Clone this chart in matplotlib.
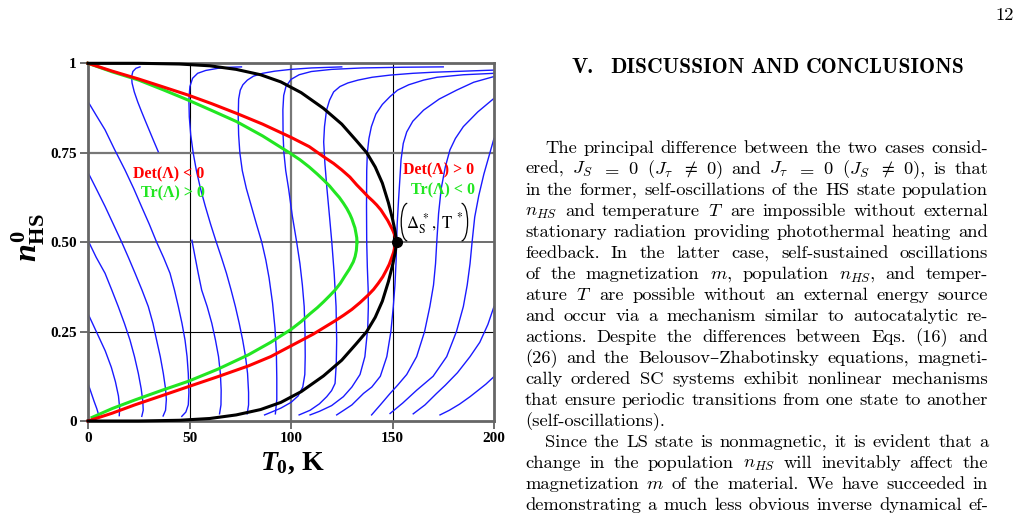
import matplotlib
matplotlib.use("Agg")
import matplotlib.pyplot as plt
from matplotlib.patches import Arc

plt.rcParams['mathtext.fontset'] = 'custom'
plt.rcParams['mathtext.rm'] = 'Liberation Serif:bold'
plt.rcParams['mathtext.it'] = 'Liberation Serif:italic:bold'
plt.rcParams['mathtext.bf'] = 'Liberation Serif:bold'

# ---------------- data (T0 in K, n_HS) ----------------
black_up_T = [0, 25, 45, 60, 73, 85, 95, 105, 116, 125, 132, 137.3, 141.5, 145, 148, 150, 151.3, 152]
black_up_n = [1.0, 1.0, 0.998, 0.993, 0.983, 0.968, 0.948, 0.918, 0.874, 0.83, 0.785, 0.75, 0.71, 0.665, 0.61, 0.565, 0.53, 0.5]
black_lo_T = [0, 25, 45, 60, 73, 85, 95, 105, 116, 125, 132, 137.3, 141.5, 145, 148, 150, 151.3, 152]
black_lo_n = [0.0, 0.0, 0.002, 0.007, 0.017, 0.032, 0.052, 0.082, 0.126, 0.17, 0.215, 0.25, 0.29, 0.335, 0.39, 0.435, 0.47, 0.5]

red_up_T = [0, 12, 25, 37, 49.4, 61, 73.2, 86, 100, 109, 116, 121, 125, 129, 132.4, 135.5, 138, 140.3, 142.2, 144.3, 146, 147.6, 148.8, 149.9, 150.6, 151.2, 151.6, 152]
red_up_n = [1.0, 0.978, 0.956, 0.934, 0.911, 0.887, 0.86, 0.83, 0.793, 0.767, 0.739, 0.72, 0.702, 0.682, 0.66, 0.642, 0.627, 0.615, 0.604, 0.59, 0.575, 0.561, 0.548, 0.536, 0.527, 0.518, 0.51, 0.5]
red_lo_T = [0, 12, 23, 36, 49.4, 64, 79, 90, 100, 111, 121.7, 126, 130, 134, 138, 140.7, 143, 145.2, 147, 148.4, 149.5, 150.5, 151.2, 151.7, 152]
red_lo_n = [0.0, 0.022, 0.045, 0.07, 0.096, 0.124, 0.154, 0.18, 0.21, 0.243, 0.28, 0.296, 0.312, 0.331, 0.352, 0.368, 0.385, 0.403, 0.422, 0.438, 0.455, 0.471, 0.487, 0.495, 0.5]

green_up_T = [0, 12, 25, 37, 49.4, 61, 73.2, 86, 99.5, 104.5, 109, 113, 116, 119, 121.5, 123.8, 125.8, 127.5, 129, 130, 130.7, 131.5, 132, 132.4, 132.5]
green_up_n = [1.0, 0.976, 0.953, 0.926, 0.897, 0.868, 0.837, 0.797, 0.749, 0.73, 0.71, 0.69, 0.674, 0.657, 0.64, 0.625, 0.609, 0.594, 0.578, 0.565, 0.553, 0.54, 0.525, 0.512, 0.5]
green_lo_T = [2, 12, 23.2, 36, 49.4, 64, 79, 90, 100, 105, 109.4, 113, 116, 119, 121.7, 124.3, 126.5, 128.8, 130.7, 131.6, 132.2, 132.5]
green_lo_n = [0.01, 0.035, 0.059, 0.085, 0.111, 0.145, 0.185, 0.22, 0.256, 0.278, 0.3, 0.317, 0.333, 0.35, 0.366, 0.385, 0.405, 0.425, 0.445, 0.46, 0.477, 0.5]

# blue trajectories: (T values, n values)
traj_T = [
    [0, 1.5, 3, 4.3, 5.1, 5.0],
    [0, 4.5, 8.5, 11.5, 13.5, 15, 15.6, 15.4],
    [0, 4, 8.4, 11.8, 14.9, 18, 20.7, 22.9, 24.8, 26.2, 27.0, 27.2, 26.5],
    [0, 4, 8.4, 12.5, 16.6, 20, 23.2, 26.6, 29.7, 32, 33.8, 35.6, 37.1, 38.2, 38.6, 38.2, 37.0],
    [0, 4, 8.4, 13, 18.2, 22.5, 26.4, 30.2, 33.8, 37.3, 40.4, 42.6, 44.5, 46.3, 47.8, 48.8, 49.4, 49.7, 49.4, 48.2, 46.2],
    [25.6, 23.6, 22.1, 21.5, 21.7, 22.8, 24.5, 26.3, 28.1, 30.3, 32.5, 34.6],
    [51.2, 52.7, 54.3, 56, 58.7, 61, 62.8, 64.3, 65.2, 65.6, 65.5, 64.8],
    [75.6, 70, 64, 58, 54, 51.5, 50.2, 49.7, 49.9, 50.6, 51.8, 53.4, 55.4, 57.8, 60.4, 63.2, 65.8, 68.2,
     70.5, 72.6, 74.5, 76.2, 77.6, 78.6, 79.1, 79.1, 78.4],
    [125, 110, 100, 92, 86, 81.5, 78.5, 76.3, 75, 74.2, 74, 74.2, 74.8, 76, 78, 80.5, 83, 85.6,
     87.6, 89.2, 90.9, 92.1, 92.8, 93, 93, 92.3],
    [175, 155, 135, 120, 110, 104, 100, 97.5, 96.4, 96, 96.1, 96.5, 97.4, 98.8, 100.6, 102.8, 104.4,
     105.6, 106.5, 106.9, 107, 106.8, 105.8, 103.5, 100, 95, 90, 87],
    [200, 185, 170, 160, 148.8, 140, 133, 128, 124.1, 121, 119, 117.5, 116.5, 116.1, 116.7, 117.7,
     119, 120.1, 121.3, 122.2, 122.5, 122.3, 121.7, 120, 117.6, 114, 109.4, 104],
    [200, 185, 172, 165.3, 158, 152.5, 148.8, 145, 141.8, 139.6, 138.4, 137.6, 137.3, 137.2, 137.3,
     137.6, 138, 138.1, 137.8, 136.4, 134, 130, 125.8, 120, 114, 109.4],
    [200, 190, 181.6, 173, 165.3, 160, 157, 155.3, 154.2, 153.7, 153, 152.3, 152, 151.8, 151.2, 150.4,
     149.2, 147.2, 144, 139.8, 135.7, 130, 126, 122.5],
    [200, 192, 184.9, 181, 178.3, 176, 174, 172.7, 171.8, 171.2, 170.2, 168.4, 165.8, 161.9, 157,
     152.5, 148.8, 144, 139.7],
    [200, 197.5, 195, 192.5, 190.5, 189.2, 188.2, 186.8, 184.9, 181.5, 176.7, 170, 161.9, 155, 148.8],
    [200, 197, 193, 188.2, 182, 176, 171.7, 166, 160.2],
    [200, 196, 192, 188.2, 183, 178, 173.4],
]
traj_n = [
    [0.105, 0.08, 0.055, 0.035, 0.02, 0.012],
    [0.30, 0.245, 0.196, 0.15, 0.11, 0.07, 0.037, 0.015],
    [0.505, 0.458, 0.413, 0.365, 0.32, 0.272, 0.226, 0.18, 0.133, 0.09, 0.055, 0.03, 0.013],
    [0.695, 0.65, 0.6, 0.55, 0.5, 0.456, 0.413, 0.366, 0.32, 0.273, 0.226, 0.18, 0.133, 0.09, 0.06, 0.03, 0.014],
    [0.893, 0.855, 0.814, 0.76, 0.702, 0.65, 0.599, 0.55, 0.5, 0.456, 0.413, 0.366, 0.32, 0.273, 0.226,
     0.18, 0.133, 0.08, 0.045, 0.025, 0.013],
    [0.99, 0.986, 0.977, 0.963, 0.945, 0.92, 0.892, 0.866, 0.841, 0.811, 0.781, 0.753],
    [0.505, 0.46, 0.413, 0.366, 0.32, 0.273, 0.226, 0.18, 0.133, 0.086, 0.045, 0.02],
    [0.99, 0.989, 0.986, 0.98, 0.972, 0.958, 0.935, 0.898, 0.85, 0.8, 0.75, 0.7, 0.65, 0.6, 0.55, 0.5,
     0.456, 0.413, 0.366, 0.32, 0.273, 0.226, 0.18, 0.133, 0.08, 0.045, 0.02],
    [0.99, 0.987, 0.983, 0.978, 0.972, 0.964, 0.953, 0.94, 0.925, 0.9, 0.85, 0.8, 0.75, 0.7, 0.65, 0.6,
     0.55, 0.5, 0.45, 0.4, 0.33, 0.26, 0.19, 0.12, 0.06, 0.02],
    [0.99, 0.989, 0.987, 0.983, 0.977, 0.968, 0.955, 0.935, 0.91, 0.87, 0.8, 0.75, 0.7, 0.65, 0.575,
     0.5, 0.44, 0.38, 0.32, 0.25, 0.18, 0.13, 0.095, 0.07, 0.052, 0.036, 0.024, 0.017],
    [0.981, 0.978, 0.975, 0.972, 0.967, 0.961, 0.953, 0.945, 0.935, 0.92, 0.897, 0.869, 0.823, 0.78,
     0.72, 0.65, 0.57, 0.5, 0.41, 0.32, 0.226, 0.16, 0.105, 0.085, 0.068, 0.048, 0.03, 0.017],
    [0.972, 0.968, 0.961, 0.953, 0.94, 0.925, 0.907, 0.885, 0.858, 0.823, 0.79, 0.75, 0.7, 0.6, 0.5,
     0.43, 0.37, 0.32, 0.26, 0.18, 0.13, 0.095, 0.068, 0.043, 0.027, 0.017],
    [0.963, 0.947, 0.925, 0.9, 0.869, 0.838, 0.808, 0.776, 0.73, 0.683, 0.62, 0.55, 0.5, 0.45, 0.38,
     0.32, 0.25, 0.18, 0.125, 0.095, 0.077, 0.045, 0.03, 0.017],
    [0.902, 0.864, 0.823, 0.79, 0.758, 0.71, 0.65, 0.58, 0.5, 0.44, 0.38, 0.32, 0.25, 0.18, 0.13, 0.1,
     0.077, 0.045, 0.017],
    [0.79, 0.74, 0.69, 0.63, 0.57, 0.5, 0.44, 0.38, 0.32, 0.25, 0.18, 0.125, 0.086, 0.05, 0.021],
    [0.32, 0.27, 0.22, 0.18, 0.135, 0.1, 0.077, 0.045, 0.02],
    [0.124, 0.103, 0.085, 0.068, 0.047, 0.03, 0.017],
]

fixed_T, fixed_n = 152, 0.5

x_ticks = [0, 50, 100, 150, 200]
x_tick_labels = ['0', '50', '100', '150', '200']
y_ticks = [0, 0.25, 0.5, 0.75, 1]
y_tick_labels = ['0', '0.25', '0.50', '0.75', '1']

title_num = 'V.'
title_text = 'DISCUSSION AND CONCLUSIONS'
page_number = '12'
body_lines = [
    'The principal difference between the two cases consid-',
    'ered, $J_S$ $=$ $0$ ($J_\\tau$ $\\neq$ $0$) and $J_\\tau$ $=$ $0$ ($J_S$ $\\neq$ $0$), is that',
    'in the former, self-oscillations of the HS state population',
    '$n_{HS}$ and temperature $T$ are impossible without external',
    'stationary radiation providing photothermal heating and',
    'feedback. In the latter case, self-sustained oscillations',
    'of the magnetization $m$, population $n_{HS}$, and temper-',
    'ature $T$ are possible without an external energy source',
    'and occur via a mechanism similar to autocatalytic re-',
    'actions. Despite the differences between Eqs. (16) and',
    '(26) and the Belousov\u2013Zhabotinsky equations, magneti-',
    'cally ordered SC systems exhibit nonlinear mechanisms',
    'that ensure periodic transitions from one state to another',
    '(self-oscillations).',
    'Since the LS state is nonmagnetic, it is evident that a',
    'change in the population $n_{HS}$ will inevitably affect the',
    'magnetization $m$ of the material. We have succeeded in',
    'demonstrating a much less obvious inverse dynamical ef-',
]
indented = [0, 14]
ragged = [13]

# ---------------- figure ----------------
W, H = 1022, 513
fig = plt.figure(figsize=(W / 100, H / 100), dpi=100)
ax = fig.add_axes([88 / W, 1 - 421 / H, 406 / W, 357.7 / H])
ax.set_xlim(0, 200)
ax.set_ylim(0, 1)

# grid lines as in the original
ax.axvline(50, color='black', lw=0.8, zorder=0.5)
ax.axvline(100, color='#777777', lw=1.6, zorder=0.5)
ax.axvline(150, color='black', lw=0.8, zorder=0.5)
ax.axhline(0.75, color='#777777', lw=1.6, zorder=0.5)
ax.axhline(0.5, color='#555555', lw=1.2, zorder=0.5)
ax.axhline(0.25, color='black', lw=0.8, zorder=0.5)

for tt, nn in zip(traj_T, traj_n):
    ax.plot(tt, nn, color='#1a1aff', lw=1.0, zorder=2, solid_joinstyle='round')

ax.plot(green_up_T, green_up_n, color='#22e622', lw=2.2, zorder=3, clip_on=False)
ax.plot(green_lo_T, green_lo_n, color='#22e622', lw=2.2, zorder=3, clip_on=False)
ax.plot(red_up_T, red_up_n, color='#ff0000', lw=2.2, zorder=4, clip_on=False)
ax.plot(red_lo_T, red_lo_n, color='#ff0000', lw=2.2, zorder=4, clip_on=False)
ax.plot(black_up_T, black_up_n, color='black', lw=2.2, zorder=5, clip_on=False)
ax.plot(black_lo_T, black_lo_n, color='black', lw=2.2, zorder=5, clip_on=False)
ax.plot([fixed_T], [fixed_n], 'o', color='black', ms=7, zorder=6)

lab = dict(family='Liberation Serif', weight='bold', fontsize=11.5, ha='center', va='center')
ax.text(39.6, 0.69, 'Det(\u039b) < 0', color='#ff0000', **lab)
ax.text(42, 0.637, 'Tr(\u039b) > 0', color='#22e622', **lab)
ax.text(172.6, 0.70, 'Det(\u039b) > 0', color='#ff0000', **lab)
ax.text(175, 0.646, 'Tr(\u039b) < 0', color='#22e622', **lab)

# label of the fixed point, between tall thin brackets
ax.text(170.6, 0.553, r'$\Delta_{\rm S}^{\ *},\ {\rm T}^{\ *}$', fontsize=12,
        math_fontfamily='stix', ha='center', va='center', zorder=7)
ax.add_patch(Arc((157.3, 0.556), 6.0, 0.105, theta1=112, theta2=248,
                 color='black', lw=0.9, zorder=7))
ax.add_patch(Arc((184.0, 0.556), 6.0, 0.105, theta1=-68, theta2=68,
                 color='black', lw=0.9, zorder=7))

for s in ax.spines.values():
    s.set_color('#666666')
    s.set_linewidth(2)
ax.set_xticks(x_ticks)
ax.set_xticklabels(x_tick_labels, family='Liberation Serif', weight='bold', fontsize=11)
ax.set_yticks(y_ticks)
ax.set_yticklabels(y_tick_labels, family='Liberation Serif', weight='bold', fontsize=11)
ax.tick_params(direction='out', length=6, width=1.2, color='#555555', pad=2)

fig.text(292 / W, 1 - 463 / H, r'$T_0$, K', family='Liberation Serif', weight='bold',
         fontsize=20, ha='center', va='center')
fig.text(28 / W, 1 - 238 / H, r'$n^{0}_{\mathrm{HS}}$', fontsize=23, rotation=90,
         ha='center', va='center')

# ---------------- page text on the right ----------------
renderer = fig.canvas.get_renderer()
body_font = ['cmr10', 'DejaVu Serif']
title_font = ['cmb10', 'DejaVu Serif']


def word_widths(words, size, family):
    objs = [fig.text(0, 0, w, fontsize=size, family=family, math_fontfamily='cm',
                     ha='left', va='baseline') for w in words]
    return objs, [o.get_window_extent(renderer).width for o in objs]


def natural_width(text, size, family):
    objs, widths = word_widths(text.split(' '), size, family)
    for o in objs:
        o.remove()
    return sum(widths) + (len(widths) - 1) * size * 100 / 72 * 0.333


def place_words(text, x_left, x_right, y_base, size, justify, family):
    words = text.split(' ')
    objs, widths = word_widths(words, size, family)
    if justify and len(words) > 1:
        gap = (x_right - x_left - sum(widths)) / (len(words) - 1)
    else:
        gap = size * 100 / 72 * 0.333
    x = x_left
    for o, w in zip(objs, widths):
        o.set_position((x / W, 1 - y_base / H))
        x += w + gap


# pick the body size so that the tightest line just fills the column
size0 = 12.0
body_size = size0 * 463 / natural_width(body_lines[12], size0, body_font) * 1.01
for i, line in enumerate(body_lines):
    x0 = 545 if i in indented else 525
    place_words(line, x0, 988, 153 + 21 * i, body_size, i not in ragged, body_font)

title_size = size0 * 355 / natural_width(title_text, size0, title_font)
fig.text(572 / W, 1 - 73 / H, title_num, family=title_font, fontsize=title_size,
         ha='left', va='baseline')
place_words(title_text, 610, 965, 73, title_size, True, title_font)
fig.text(1014 / W, 1 - 20 / H, page_number, family=body_font, fontsize=body_size,
         ha='right', va='baseline')

fig.savefig('out.png', dpi=100)
